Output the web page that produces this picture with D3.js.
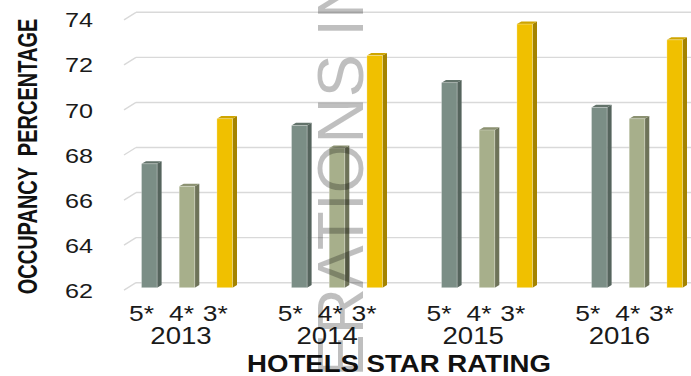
<!DOCTYPE html>
<html>
<head>
<meta charset="utf-8">
<script src="https://cdn.jsdelivr.net/npm/d3@7/dist/d3.min.js"></script>
<style>
  html, body { margin: 0; padding: 0; background: #ffffff; }
  svg { display: block; font-family: "Liberation Sans", Arial, sans-serif; }
</style>
</head>
<body>
<svg id="chart" width="691" height="376"></svg>
<script>
// Hotel occupancy by star rating, 2013-2016
const years = ["2013", "2014", "2015", "2016"];
const stars = ["5*", "4*", "3*"];
const fiveStar  = [67.5, 69.2, 71.1, 70.0];
const fourStar  = [66.5, 68.2, 69.0, 69.5];
const threeStar = [69.5, 72.3, 73.7, 73.0];
const yTicks = [62, 64, 66, 68, 70, 72, 74];
const yTitle = "OCCUPANCY  PERCENTAGE";
const xTitle = "HOTELS STAR RATING";
const watermark = "ERATIONS IN";

const seriesByStar = { "5*": fiveStar, "4*": fourStar, "3*": threeStar };

const rows = [];
years.forEach((yr, i) => {
  stars.forEach(s => rows.push({ year: yr, star: s, value: seriesByStar[s][i] }));
});

const palette = {
  "5*": { front: "#7b8e86", side: "#55645d", top: "#62726a" },
  "4*": { front: "#a7af8b", side: "#6e7359", top: "#8b9171" },
  "3*": { front: "#f0c000", side: "#a48300", top: "#cfa500" }
};

const svg = d3.select("#chart");

// 3D depth offsets
const depth = { dx: 12, dy: -7.5 };   // floor to back wall
const barDepth = { dx: 4.5, dy: -2.6 };
const barShift = 5;                    // bars stand slightly in front of the back wall

// back-wall value scale
const y = d3.scaleLinear().domain([62, 74]).range([282.7, 12.3]);

// bar positions
const x = d3.scaleBand().domain(years).range([112, 712]).paddingInner(0).paddingOuter(0);
const xInner = d3.scaleBand().domain(stars).range([-45.5, 45.5]).paddingInner(0.586).paddingOuter(0);

// category label positions along the front edge
const xStarLab = d3.scaleBand().domain(years).range([107.25, 702.05]);
const starOffset = d3.scaleOrdinal().domain(stars).range([-40, 0, 33.7]);
const xYearLab = d3.scaleBand().domain(years).range([107.95, 692.35]);

// gridlines on the back wall with floor-edge diagonals
const wallLeft = 136;
const grid = svg.append("g").attr("stroke", "#d9d9d9").attr("stroke-width", 1.4).attr("fill", "none");
grid.selectAll("line.h").data(yTicks).join("line")
  .attr("class", "h")
  .attr("x1", wallLeft).attr("x2", 691)
  .attr("y1", d => y(d)).attr("y2", d => y(d));
grid.selectAll("line.d").data(yTicks).join("line")
  .attr("class", "d")
  .attr("x1", wallLeft - depth.dx).attr("y1", d => y(d) - depth.dy)
  .attr("x2", wallLeft).attr("y2", d => y(d));

// y tick labels
svg.append("g").selectAll("text").data(yTicks).join("text")
  .attr("transform", d => `translate(93,${y(d) - depth.dy + 7.6}) scale(1.2,1)`)
  .attr("text-anchor", "end")
  .attr("font-size", 21)
  .attr("fill", "#1a1a1a")
  .text(d => d);

// 3D columns
const bars = svg.append("g").selectAll("g").data(rows).join("g");
const w = xInner.bandwidth();
const yFront = v => y(v) + barShift;
bars.each(function (d) {
  const g = d3.select(this);
  const x0 = x(d.year) + x.bandwidth() / 2 + xInner(d.star);
  const yt = yFront(d.value), yb = yFront(62);
  const c = palette[d.star];
  g.append("polygon")
    .attr("points", [[x0 + w, yt], [x0 + w + barDepth.dx, yt + barDepth.dy],
                     [x0 + w + barDepth.dx, yb + barDepth.dy], [x0 + w, yb]].join(" "))
    .attr("fill", c.side);
  g.append("polygon")
    .attr("points", [[x0, yt], [x0 + barDepth.dx, yt + barDepth.dy],
                     [x0 + w + barDepth.dx, yt + barDepth.dy], [x0 + w, yt]].join(" "))
    .attr("fill", c.top);
  g.append("rect")
    .attr("x", x0).attr("y", yt)
    .attr("width", w).attr("height", yb - yt)
    .attr("fill", c.front)
    .attr("stroke", "rgba(255,255,255,0.35)").attr("stroke-width", 0.8);
});

// star-rating labels
svg.append("g").selectAll("text").data(rows).join("text")
  .attr("transform", d => `translate(${xStarLab(d.year) + xStarLab.bandwidth() / 2 + starOffset(d.star)},321) scale(1.2,1)`)
  .attr("text-anchor", "middle")
  .attr("font-size", 22)
  .attr("fill", "#1a1a1a")
  .text(d => d.star);

// year labels
svg.append("g").selectAll("text").data(years).join("text")
  .attr("transform", d => `translate(${xYearLab(d) + xYearLab.bandwidth() / 2},344) scale(1.2,1)`)
  .attr("text-anchor", "middle")
  .attr("font-size", 23)
  .attr("fill", "#1a1a1a")
  .text(d => d);

// axis titles
svg.append("text")
  .attr("transform", "translate(37,156.5) scale(1.4,1) rotate(-90)")
  .attr("text-anchor", "middle")
  .attr("font-size", 20)
  .attr("font-weight", "bold")
  .attr("fill", "#111")
  .attr("xml:space", "preserve")
  .style("white-space", "pre")
  .text(yTitle);

svg.append("text")
  .attr("transform", "translate(399,372) scale(1.2,1)")
  .attr("text-anchor", "middle")
  .attr("font-size", 23)
  .attr("font-weight", "bold")
  .attr("fill", "#111")
  .text(xTitle);

// vertical watermark
svg.append("text")
  .attr("transform", "translate(363,377) rotate(-90)")
  .attr("text-anchor", "start")
  .attr("font-size", 64)
  .attr("fill", "#000")
  .attr("fill-opacity", 0.25)
  .text(watermark);
</script>
</body>
</html>
